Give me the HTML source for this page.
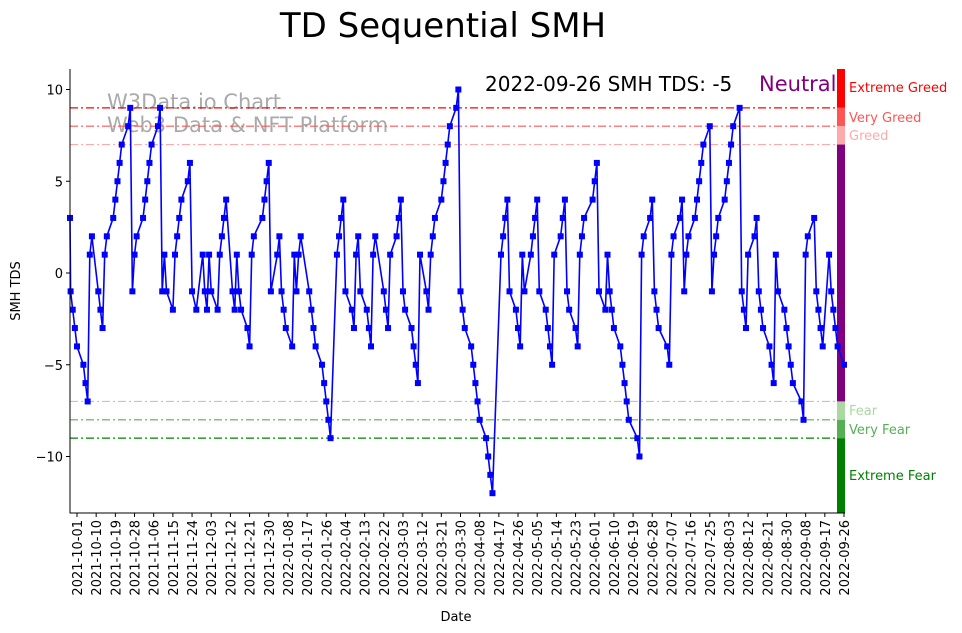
<!DOCTYPE html>
<html><head><meta charset="utf-8">
<style>
body{margin:0;background:#fff;}
svg{display:block;font-family:"DejaVu Sans","Liberation Sans",sans-serif;}
</style></head>
<body>
<svg id="chart" width="962" height="633" xmlns="http://www.w3.org/2000/svg">
<text x="443" y="37" font-size="34" text-anchor="middle">TD Sequential SMH</text>
<text x="107" y="109" font-size="21" fill="#aaa">W3Data.io Chart</text>
<text x="107" y="132" font-size="21" fill="#aaa">Web3 Data &amp; NFT Platform</text>
<g id="bands"></g>
<g id="plot"></g>
<text x="485" y="91" font-size="20">2022-09-26 SMH TDS: -5</text>
<text x="759" y="91" font-size="21" fill="purple">Neutral</text>
<text transform="translate(20,291) rotate(-90)" font-size="13" text-anchor="middle">SMH TDS</text>
<text x="456" y="621" font-size="13" text-anchor="middle">Date</text>
</svg>
<script>
const tdsValues=[3,-1,-2,-3,-4,-5,-6,-7,1,2,-1,-2,-3,1,2,3,4,5,6,7,8,9,-1,1,2,3,4,5,6,7,8,9,-1,1,-1,-2,1,2,3,4,5,6,-1,-2,1,-1,-2,1,-1,-2,1,2,3,4,-1,-2,1,-1,-2,-3,-4,1,2,3,4,5,6,-1,1,2,-1,-2,-3,-4,1,-1,1,2,-1,-2,-3,-4,-5,-6,-7,-8,-9,
1,2,3,4,-1,-2,-3,1,2,-1,-2,-3,-4,1,2,-1,-2,-3,1,2,3,4,-1,-2,-3,-4,-5,-6,1,-1,-2,1,2,3,4,5,6,7,8,9,10,
-1,-2,-3,-4,-5,-6,-7,-8,-9,-10,-11,-12,1,2,3,4,-1,-2,-3,-4,1,-1,1,2,3,4,-1,-2,-3,-4,-5,1,2,3,4,-1,-2,-3,-4,1,2,3,4,5,6,
-1,-2,1,-1,-2,-3,-4,-5,-6,-7,-8,-9,-10,1,2,3,4,-1,-2,-3,-4,-5,1,2,3,4,-1,1,2,3,4,5,6,7,8,
-1,1,2,3,4,5,6,7,8,9,-1,-2,-3,1,2,3,-1,-2,-3,-4,-5,-6,1,-1,-2,-3,-4,-5,-6,-7,-8,1,2,3,-1,-2,-3,-4,1,-1,-2,-3,-4,-5];
const marketHolidays=["2021-11-25","2021-12-24","2022-01-17","2022-02-21","2022-04-15","2022-05-30","2022-06-20","2022-07-04","2022-09-05"];
const lastDate="2022-09-26";
const yTicks=[10,5,0,-5,-10];
const xTickLabels=["2021-10-01","2021-10-10","2021-10-19","2021-10-28","2021-11-06","2021-11-15","2021-11-24","2021-12-03","2021-12-12","2021-12-21","2021-12-30","2022-01-08","2022-01-17","2022-01-26","2022-02-04","2022-02-13","2022-02-22","2022-03-03","2022-03-12","2022-03-21","2022-03-30","2022-04-08","2022-04-17","2022-04-26","2022-05-05","2022-05-14","2022-05-23","2022-06-01","2022-06-10","2022-06-19","2022-06-28","2022-07-07","2022-07-16","2022-07-25","2022-08-03","2022-08-12","2022-08-21","2022-08-30","2022-09-08","2022-09-17","2022-09-26"];
const levelValues=[9,8,7,-7,-8,-9];
const levelColors=["red","#ff5555","#ffaaaa","#aad8a0","#55b055","green"];
const zoneNames=["Extreme Greed","Very Greed","Greed","Fear","Very Fear","Extreme Fear"];

const NS="http://www.w3.org/2000/svg";
const L=70,R=845,T=69,B=513;
const DAY=86400000;
const t0=Date.UTC(2021,9,1);
const y=v=>273-18.35*v;
const xDay=d=>77+d*(844-77)/360;
const xDate=ms=>xDay((ms-t0)/DAY);
function iso(ms){return new Date(ms).toISOString().slice(0,10);}
// trading days ending at lastDate, counted backwards
const dates=[];
{let ms=Date.parse(lastDate+"T00:00:00Z");
 while(dates.length<tdsValues.length){const wd=new Date(ms).getUTCDay();
  if(wd!==0&&wd!==6&&marketHolidays.indexOf(iso(ms))<0)dates.unshift(ms);
  ms-=DAY;}}
function mk(tag,attrs,parent){const e=document.createElementNS(NS,tag);for(const k in attrs)e.setAttribute(k,attrs[k]);parent.appendChild(e);return e;}
const svg=document.getElementById('chart');
const bands=document.getElementById('bands');
const plot=document.getElementById('plot');

levelValues.forEach((v,i)=>{
  const ln=mk('line',{x1:L,x2:837,y1:y(v),y2:y(v),stroke:levelColors[i],'stroke-width':1.2,'stroke-dasharray':'8 3 2 3'},bands);
  
  
});
const segs=[[T,y(9),'red'],[y(9),y(8),'#ff5555'],[y(8),y(7),'#ffaaaa'],[y(7),y(-7),'purple'],[y(-7),y(-8),'#aad8a0'],[y(-8),y(-9),'#55b055'],[y(-9),B,'green']];
segs.forEach((s,i)=>{
  const r=mk('rect',{x:837,y:s[0],width:8,height:s[1]-s[0],fill:s[2]},bands);
  
  
});
const labY=[92,122,140,415,434,480];
zoneNames.forEach((n,i)=>{
  const t=mk('text',{x:849,y:labY[i],'font-size':13,fill:levelColors[i]},bands);
  t.textContent=n;
  
  
});

let d='';
tdsValues.forEach((v,i)=>{d+=(i?'L':'M')+Math.max(L,xDate(dates[i])).toFixed(1)+','+y(v).toFixed(1);});
const path=mk('path',{d:d,fill:'none',stroke:'blue','stroke-width':1.6},plot);


tdsValues.forEach((v,i)=>{
  const m=mk('rect',{x:Math.max(L,xDate(dates[i]))-3,y:y(v)-3,width:6,height:6,fill:'blue'},plot);
  
  
});

const ax=mk('path',{d:`M${L},${T}V${B}H${R}`,fill:'none',stroke:'#000','stroke-width':1},svg);


yTicks.forEach(v=>{
  mk('line',{x1:L-4,x2:L,y1:y(v),y2:y(v),stroke:'#000'},svg);
  const t=mk('text',{x:L-7,y:y(v)+5,'font-size':13,'text-anchor':'end'},svg);
  t.textContent=v<0?'\u2212'+(-v):v;
  
  
});
xTickLabels.forEach((s,i)=>{
  const x=xDate(Date.parse(s+"T00:00:00Z"));
  mk('line',{x1:x,x2:x,y1:B,y2:B+4,stroke:'#000'},svg);
  const t=mk('text',{transform:`translate(${x+5},${B+7}) rotate(-90)`,'font-size':13,'text-anchor':'end'},svg);
  t.textContent=s;
  
  
});
</script>
</body></html>
